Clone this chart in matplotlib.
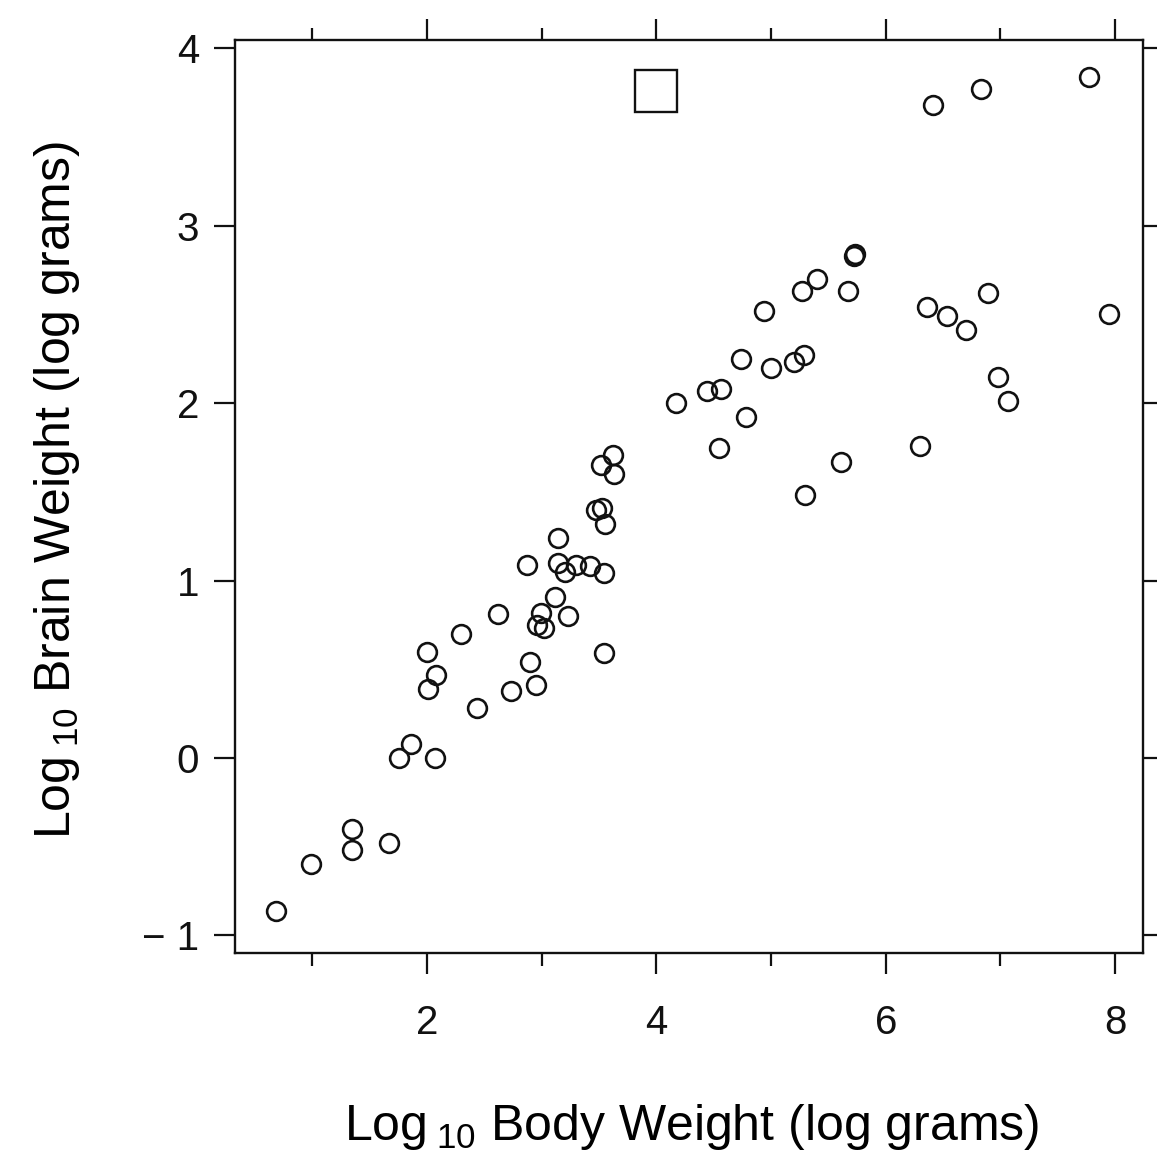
import matplotlib
matplotlib.use("Agg")
import matplotlib.pyplot as plt

plt.rcParams['font.family'] = ['Liberation Sans', 'DejaVu Sans']
plt.rcParams['mathtext.fontset'] = 'custom'
plt.rcParams['mathtext.rm'] = 'Liberation Sans'
plt.rcParams['mathtext.default'] = 'regular'

# log10 body weight and log10 brain weight for each species
body = [0.68, 0.99, 1.35, 1.35, 1.67, 1.76, 1.86, 2.07, 2.00, 2.08,
        2.01, 2.30, 2.44, 2.62, 2.73, 2.87, 2.90, 2.95, 2.96, 2.99,
        3.02, 3.12, 3.14, 3.14, 3.20, 3.23, 3.30, 3.42, 3.47, 3.53,
        3.54, 3.54, 3.55, 3.52, 3.62, 3.63, 4.17, 4.44, 4.56, 4.55,
        4.74, 4.78, 4.94, 5.00, 5.20, 5.29, 5.27, 5.40, 5.30, 5.61,
        5.67, 5.72, 5.73, 6.30, 6.36, 6.41, 6.53, 6.70, 6.83, 6.89,
        6.98, 7.07, 7.77, 7.95]
brain = [-0.86, -0.60, -0.40, -0.52, -0.48, 0.00, 0.08, 0.00, 0.60, 0.47,
         0.39, 0.70, 0.28, 0.81, 0.38, 1.09, 0.54, 0.41, 0.75, 0.82,
         0.73, 0.91, 1.24, 1.10, 1.05, 0.80, 1.09, 1.08, 1.40, 1.41,
         1.04, 0.59, 1.32, 1.65, 1.71, 1.60, 2.00, 2.07, 2.08, 1.75,
         2.25, 1.92, 2.52, 2.20, 2.23, 2.27, 2.63, 2.70, 1.48, 1.67,
         2.63, 2.83, 2.84, 1.76, 2.54, 3.68, 2.49, 2.41, 3.77, 2.62,
         2.15, 2.01, 3.84, 2.50]

# single highlighted point drawn as a square
sq_body = [4.0]
sq_brain = [3.76]

xticks = [2, 4, 6, 8]
xminor = [1, 3, 5, 7]
yticks = [-1, 0, 1, 2, 3, 4]
ylabels = ['\u2212 1', '0', '1', '2', '3', '4']

fig = plt.figure(figsize=(11.57, 11.61), dpi=100)
ax = fig.add_axes([0.2031, 0.1792, 0.7848, 0.7863])

ax.plot(body, brain, 'o', ms=13.5, mfc='none', mec='#111111', mew=1.9)
ax.plot(sq_body, sq_brain, 's', ms=30, mfc='none', mec='#111111', mew=1.7)

ax.set_xlim(0.326, 8.243)
ax.set_ylim(-1.099, 4.047)

ax.set_xticks(xticks)
ax.set_xticks(xminor, minor=True)
ax.set_yticks(yticks)
ax.set_yticklabels(ylabels)

ax.tick_params(which='both', direction='out', width=1.6, colors='#111111',
               top=True, right=True, labeltop=False, labelright=False)
ax.tick_params(axis='x', which='major', length=15, pad=22, labelsize=29)
ax.tick_params(axis='x', which='minor', length=9)
ax.tick_params(axis='y', which='major', length=15, pad=11, labelsize=29)

for sp in ax.spines.values():
    sp.set_linewidth(1.7)
    sp.set_color('#111111')

ax.set_xlabel(r'Log$\,_{10}$ Body Weight (log grams)', fontsize=36)
ax.set_ylabel(r'Log$\,_{10}$ Brain Weight (log grams)', fontsize=36)
ax.xaxis.set_label_coords(0.503, -0.163)
ax.yaxis.set_label_coords(-0.168, 0.507)

fig.savefig('out.png', dpi=100)
